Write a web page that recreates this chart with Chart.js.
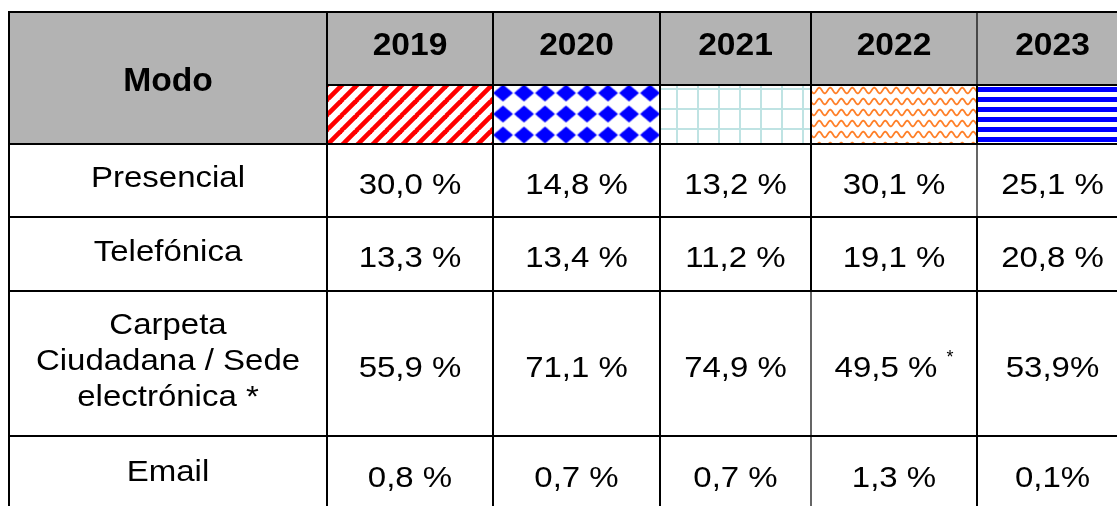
<!DOCTYPE html>
<html>
<head>
<meta charset="utf-8">
<script src="https://cdn.jsdelivr.net/npm/chart.js@4.4.0/dist/chart.umd.min.js"></script>
<style>
  html, body { margin: 0; padding: 0; background: #fff; }
  canvas { display: block; }
</style>
</head>
<body>
<canvas id="tabla_modos" width="1117" height="506"></canvas>
<script>
// Datos de la tabla (porcentaje por modo y año)
var years = ['2019', '2020', '2021', '2022', '2023'];
var headerTitle = 'Modo';
var modeLabels = [['Presencial'], ['Telefónica'], ['Carpeta', 'Ciudadana / Sede', 'electrónica *'], ['Email']];
var presencial = [30.0, 14.8, 13.2, 30.1, 25.1];
var telefonica = [13.3, 13.4, 11.2, 19.1, 20.8];
var carpeta = [55.9, 71.1, 74.9, 49.5, 53.9];
var email = [0.8, 0.7, 0.7, 1.3, 0.1];
var modeValues = [presencial, telefonica, carpeta, email];
// celdas escritas sin espacio antes de "%" y celda con asterisco
var compactCells = [[2, 4], [3, 4]];
var markedCells = [[2, 3]];

// Maquetación (unidades de las escalas)
var colEdges = [9, 327, 493, 660, 811, 977, 1128];
var rowEdges = [12, 85, 144, 217, 291, 436, 512];
var thinLines = [[977, 12, 85], [977, 144, 217], [811, 291, 512]];
var FONT = '"Liberation Sans", Arial, sans-serif';

function isIn(list, i, j) {
    return list.some(function (c) { return c[0] == i && c[1] == j; });
}
function fmt(v, i, j) {
    var s = v.toFixed(1).replace('.', ',');
    return s + (isIn(compactCells, i, j) ? '%' : ' %');
}
function mid(a, i) { return (a[i] + a[i + 1]) / 2; }

var canvas = document.getElementById('tabla_modos');
var mainCtx = canvas.getContext('2d');

function makePattern(w, h, draw) {
    var c = document.createElement('canvas');
    c.width = w; c.height = h;
    var g = c.getContext('2d');
    g.fillStyle = '#fff';
    g.fillRect(0, 0, w, h);
    draw(g, w, h);
    return mainCtx.createPattern(c, 'repeat');
}

// Tramas de la leyenda de cada año: [patrón, desplazamiento x, desplazamiento y]
var patterns = [
    [makePattern(15, 15, function (g) {
        g.strokeStyle = '#ff0000'; g.lineWidth = 4.6;
        for (var k = -1; k <= 1; k++) {
            g.beginPath(); g.moveTo(k * 15 - 1, 16); g.lineTo(k * 15 + 16, -1); g.stroke();
        }
    }), 0, 0],
    [makePattern(21, 21, function (g) {
        g.fillStyle = '#0000ff';
        g.beginPath();
        g.moveTo(10.5, 2); g.lineTo(20.5, 10.5); g.lineTo(10.5, 19); g.lineTo(0.5, 10.5);
        g.closePath(); g.fill();
    }), -0.5, -2.5],
    [makePattern(21, 20, function (g) {
        g.fillStyle = '#bfe3e3';
        g.fillRect(0, 0, 2, 20);
        g.fillRect(0, 0, 21, 2);
    }), 16, 3],
    [makePattern(11, 11, function (g) {
        g.strokeStyle = '#ff7f27'; g.lineWidth = 1.8;
        g.beginPath();
        for (var x = -1; x <= 12; x += 0.5) {
            var y = 5.5 + 2.8 * Math.sin(2 * Math.PI * x / 11);
            if (x == -1) g.moveTo(x, y); else g.lineTo(x, y);
        }
        g.stroke();
    }), 0, 0],
    [makePattern(4, 10, function (g) {
        g.fillStyle = '#0000ff';
        g.fillRect(0, 0, 4, 5);
    }), 0, 2]
];

function drawText(ctx, str, x, y, font, stretch) {
    ctx.save();
    ctx.font = font;
    ctx.translate(x, y);
    ctx.scale(stretch, 1);
    ctx.textAlign = 'center';
    ctx.textBaseline = 'alphabetic';
    ctx.fillStyle = '#000';
    ctx.fillText(str, 0, 0);
    ctx.restore();
}

function textWidth(ctx, str, font) {
    ctx.save();
    ctx.font = font;
    var w = ctx.measureText(str).width;
    ctx.restore();
    return w;
}

var tablePlugin = {
    id: 'tablePlugin',
    beforeDatasetsDraw: function (chart) {
        var ctx = chart.ctx, sx = chart.scales.x, sy = chart.scales.y;
        var X = function (v) { return sx.getPixelForValue(v); };
        var Y = function (v) { return sy.getPixelForValue(v); };
        ctx.save();
        ctx.fillStyle = '#fff';
        ctx.fillRect(0, 0, chart.width, chart.height);
        // fondos grises de la cabecera
        ctx.fillStyle = '#b3b3b3';
        ctx.fillRect(X(colEdges[0]), Y(rowEdges[0]), X(colEdges[1]) - X(colEdges[0]), Y(rowEdges[2]) - Y(rowEdges[0]));
        ctx.fillRect(X(colEdges[1]), Y(rowEdges[0]), X(colEdges[6]) - X(colEdges[1]), Y(rowEdges[1]) - Y(rowEdges[0]));
        // tramas
        for (var i = 0; i < years.length; i++) {
            var x0 = X(colEdges[i + 1]), x1 = X(colEdges[i + 2]);
            var y0 = Y(rowEdges[1]), y1 = Y(rowEdges[2]);
            ctx.save();
            ctx.translate(x0 + patterns[i][1], y0 + patterns[i][2]);
            ctx.fillStyle = patterns[i][0];
            ctx.fillRect(-patterns[i][1], -patterns[i][2], x1 - x0, y1 - y0);
            ctx.restore();
        }
        // líneas de la tabla
        ctx.strokeStyle = '#000';
        ctx.lineWidth = 2;
        ctx.beginPath();
        rowEdges.forEach(function (r, k) {
            var left = (k == 1) ? colEdges[1] : colEdges[0];
            ctx.moveTo(X(left) - 1, Y(r)); ctx.lineTo(X(colEdges[6]), Y(r));
        });
        for (var c = 0; c < colEdges.length - 1; c++) {
            var segs = [[rowEdges[0], rowEdges[6]]];
            thinLines.forEach(function (t) {
                if (t[0] == colEdges[c]) {
                    var out = [];
                    segs.forEach(function (s) {
                        if (t[1] > s[0]) out.push([s[0], t[1]]);
                        if (t[2] < s[1]) out.push([t[2], s[1]]);
                    });
                    segs = out;
                }
            });
            segs.forEach(function (s) { ctx.moveTo(X(colEdges[c]), Y(s[0]) - 1); ctx.lineTo(X(colEdges[c]), Y(s[1]) + 1); });
        }
        ctx.stroke();
        ctx.lineWidth = 1.2;
        ctx.beginPath();
        thinLines.forEach(function (t) { ctx.moveTo(X(t[0]), Y(t[1])); ctx.lineTo(X(t[0]), Y(t[2])); });
        ctx.stroke();
        ctx.restore();
    },
    afterDatasetsDraw: function (chart) {
        var ctx = chart.ctx, sx = chart.scales.x, sy = chart.scales.y;
        var X = function (v) { return sx.getPixelForValue(v); };
        var Y = function (v) { return sy.getPixelForValue(v); };
        var bold = 'bold 32px ' + FONT, reg = '30px ' + FONT, small = '18px ' + FONT;
        // cabecera
        drawText(ctx, headerTitle, X(mid(colEdges, 0)), Y((rowEdges[0] + rowEdges[2]) / 2) + 12.5, 'bold 33px ' + FONT, 1.02);
        years.forEach(function (y, j) {
            drawText(ctx, y, X(mid(colEdges, j + 1)), Y(mid(rowEdges, 0)) + 6.5, bold, 1.05);
        });
        // nombres de los modos
        modeLabels.forEach(function (lines, i) {
            var cy = Y(mid(rowEdges, i + 2)) - 4 + 10.75;
            lines.forEach(function (t, k) {
                drawText(ctx, t, X(mid(colEdges, 0)), cy + (k - (lines.length - 1) / 2) * 36, reg, 1.1);
            });
        });
        // valores, en la posición de cada punto del conjunto de datos
        chart.data.datasets.forEach(function (ds, i) {
            chart.getDatasetMeta(i).data.forEach(function (pt, j) {
                var txt = fmt(modeValues[i][j], i, j);
                var base = pt.y + 10.75 + 2.5;
                if (isIn(markedCells, i, j)) {
                    var wt = textWidth(ctx, txt, reg) * 1.1;
                    var ws = textWidth(ctx, ' ', reg) * 1.1;
                    var wa = textWidth(ctx, '*', small);
                    var left = pt.x - (wt + ws + wa) / 2;
                    drawText(ctx, txt, left + wt / 2, base, reg, 1.1);
                    drawText(ctx, '*', left + wt + ws + wa / 2, base - 13.5, small, 1);
                } else {
                    drawText(ctx, txt, pt.x, base, reg, 1.1);
                }
            });
        });
    }
};

new Chart(canvas, {
    type: 'scatter',
    data: {
        datasets: modeValues.map(function (vals, i) {
            return {
                label: modeLabels[i].join(' '),
                data: vals.map(function (v, j) {
                    return { x: mid(colEdges, j + 1), y: mid(rowEdges, i + 2) };
                }),
                pointRadius: 0,
                pointHoverRadius: 0
            };
        })
    },
    options: {
        responsive: false,
        devicePixelRatio: 1,
        animation: false,
        layout: { padding: 0 },
        events: [],
        plugins: { legend: { display: false }, tooltip: { enabled: false } },
        scales: {
            x: { type: 'linear', min: 0, max: 1117, display: false },
            y: { type: 'linear', min: 0, max: 506, reverse: true, display: false }
        }
    },
    plugins: [tablePlugin]
});
</script>
</body>
</html>
